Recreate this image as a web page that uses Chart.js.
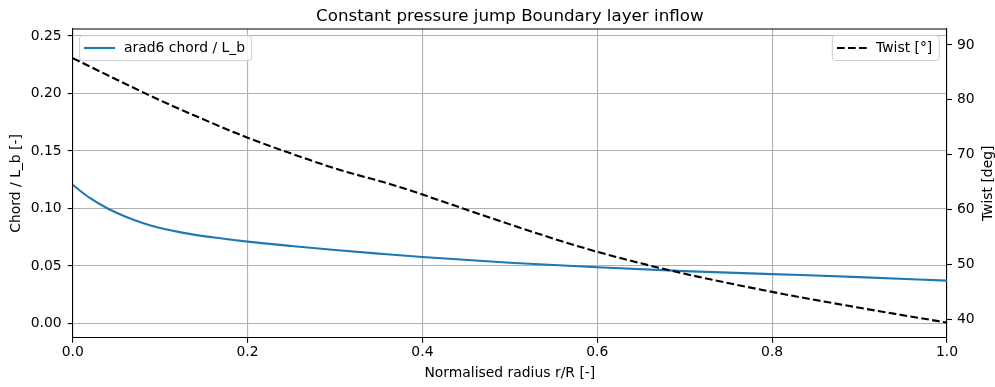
<!DOCTYPE html>
<html>
<head>
<meta charset="utf-8">
<script src="https://cdn.jsdelivr.net/npm/chart.js@4"></script>
<style>
  html, body { margin: 0; padding: 0; background: #fff; }
</style>
</head>
<body>
<canvas id="chart" width="995" height="387"></canvas>
<script>
// values
const chordRadius = [0, 0.02, 0.04, 0.06, 0.08, 0.1, 0.13, 0.16, 0.2, 0.25, 0.3, 0.35, 0.4, 0.5, 0.6, 0.7, 0.8, 0.9, 1.0]
const chord       = [0.1205, 0.1090, 0.1000, 0.0930, 0.0874, 0.0830, 0.0784, 0.0750, 0.0712, 0.0674, 0.0640, 0.0608, 0.0578, 0.0528, 0.0490, 0.0456, 0.0430, 0.0404, 0.0373]

const twistRadius = [0, 0.05, 0.1, 0.15, 0.2, 0.25, 0.3, 0.37, 0.45, 0.5, 0.55, 0.6, 0.65, 0.7, 0.8, 0.9, 1.0]
const twist       = [87.6, 83.7, 79.9, 76.4, 73.1, 70.2, 67.5, 64.3, 60.0, 57.3, 54.7, 52.3, 50.2, 48.3, 45.0, 42.1, 39.4]

const xTicks = [0, 0.2, 0.4, 0.6, 0.8, 1.0]
const chordTicks = [0, 0.05, 0.1, 0.15, 0.2, 0.25]
const twistTicks = [40, 50, 60, 70, 80, 90]

const FONT = 'DejaVu Sans'
const fs = 13.9

const setTicks = list => scale => {
    scale.ticks = list.map(v => ({value: v}))
}

// title, right axis label, top spine and the two legend boxes
const extras = {
    id: 'extras',
    afterDraw(chart) {
        const ctx = chart.ctx
        const a = chart.chartArea
        ctx.save()

        ctx.strokeStyle = '#000'
        ctx.lineWidth = 1.1
        ctx.beginPath()
        ctx.moveTo(a.left, a.top)
        ctx.lineTo(a.right, a.top)
        ctx.stroke()

        ctx.fillStyle = '#000'
        ctx.font = '16.7px "' + FONT + '"'
        ctx.textAlign = 'center'
        ctx.textBaseline = 'alphabetic'
        ctx.fillText('Constant pressure jump Boundary layer inflow', (a.left + a.right) / 2, 21)

        ctx.font = fs + 'px "' + FONT + '"'
        ctx.save()
        ctx.translate(988, (a.top + a.bottom) / 2)
        ctx.rotate(-Math.PI / 2)
        ctx.textBaseline = 'middle'
        ctx.fillText('Twist [deg]', 0, 0)
        ctx.restore()

        const box = (x, y, w, h) => {
            ctx.beginPath()
            ctx.roundRect(x, y, w, h, 3)
            ctx.fillStyle = 'rgba(255,255,255,0.8)'
            ctx.fill()
            ctx.strokeStyle = '#cccccc'
            ctx.lineWidth = 1
            ctx.stroke()
        }

        box(79.5, 35.7, 172, 25)
        ctx.strokeStyle = '#1f77b4'
        ctx.lineWidth = 2.1
        ctx.beginPath()
        ctx.moveTo(84, 48)
        ctx.lineTo(115, 48)
        ctx.stroke()

        box(832.3, 35.5, 107, 25)
        ctx.strokeStyle = '#000'
        ctx.lineWidth = 2.1
        ctx.setLineDash([7.7, 3.3])
        ctx.beginPath()
        ctx.moveTo(837, 48)
        ctx.lineTo(868, 48)
        ctx.stroke()
        ctx.setLineDash([])

        ctx.fillStyle = '#000'
        ctx.textAlign = 'left'
        ctx.textBaseline = 'middle'
        ctx.fillText('arad6 chord / L_b', 124, 48)
        ctx.fillText('Twist [°]', 876, 48)

        ctx.restore()
    }
}

const tickFont = {family: FONT, size: fs}

new Chart(document.getElementById('chart'), {
    type: 'line',
    data: {
        datasets: [{
            label: 'Twist [°]',
            data: twistRadius.map((r, i) => ({x: r, y: twist[i]})),
            yAxisID: 'y2',
            borderColor: '#000',
            borderWidth: 2.1,
            borderDash: [7.7, 3.3],
            pointRadius: 0,
            cubicInterpolationMode: 'monotone',
            fill: false
        }, {
            label: 'arad6 chord / L_b',
            data: chordRadius.map((r, i) => ({x: r, y: chord[i]})),
            yAxisID: 'y',
            borderColor: '#1f77b4',
            borderWidth: 2.1,
            pointRadius: 0,
            cubicInterpolationMode: 'monotone',
            fill: false
        }]
    },
    options: {
        responsive: false,
        devicePixelRatio: 1,
        animation: false,
        events: [],
        layout: {padding: {top: 29, left: 0, right: 0, bottom: 0}},
        plugins: {
            legend: {display: false},
            title: {display: false},
            tooltip: {enabled: false}
        },
        scales: {
            x: {
                type: 'linear',
                min: 0,
                max: 1,
                afterBuildTicks: setTicks(xTicks),
                afterFit: s => { s.height = 49.3 },
                ticks: {color: '#000', font: tickFont, padding: 1, maxRotation: 0, callback: v => v.toFixed(1)},
                grid: {color: '#b0b0b0', lineWidth: 1.1, tickLength: 5, tickColor: '#000', tickWidth: 1.1},
                border: {color: '#000', width: 1.1},
                title: {display: true, text: 'Normalised radius r/R [-]', color: '#000', font: tickFont, padding: {top: 0, bottom: 5.7}}
            },
            y: {
                type: 'linear',
                position: 'left',
                min: -0.0123,
                max: 0.2561,
                afterBuildTicks: setTicks(chordTicks),
                afterFit: s => { s.width = 72.7 },
                ticks: {color: '#000', font: tickFont, padding: 6, callback: v => v.toFixed(2)},
                grid: {color: '#b0b0b0', lineWidth: 1.1, tickLength: 5, tickColor: '#000', tickWidth: 1.1},
                border: {color: '#000', width: 1.1},
                title: {display: true, text: 'Chord / L_b [-]', color: '#000', font: tickFont, padding: {top: 7.6, bottom: 0}}
            },
            y2: {
                type: 'linear',
                position: 'right',
                min: 36.65,
                max: 92.9,
                afterBuildTicks: setTicks(twistTicks),
                afterFit: s => { s.width = 48 },
                ticks: {color: '#000', font: tickFont, padding: 5, callback: v => String(v)},
                grid: {drawOnChartArea: false, tickLength: 5, tickColor: '#000', tickWidth: 1.1},
                border: {color: '#000', width: 1.1}
            }
        }
    },
    plugins: [extras]
})
</script>
</body>
</html>
